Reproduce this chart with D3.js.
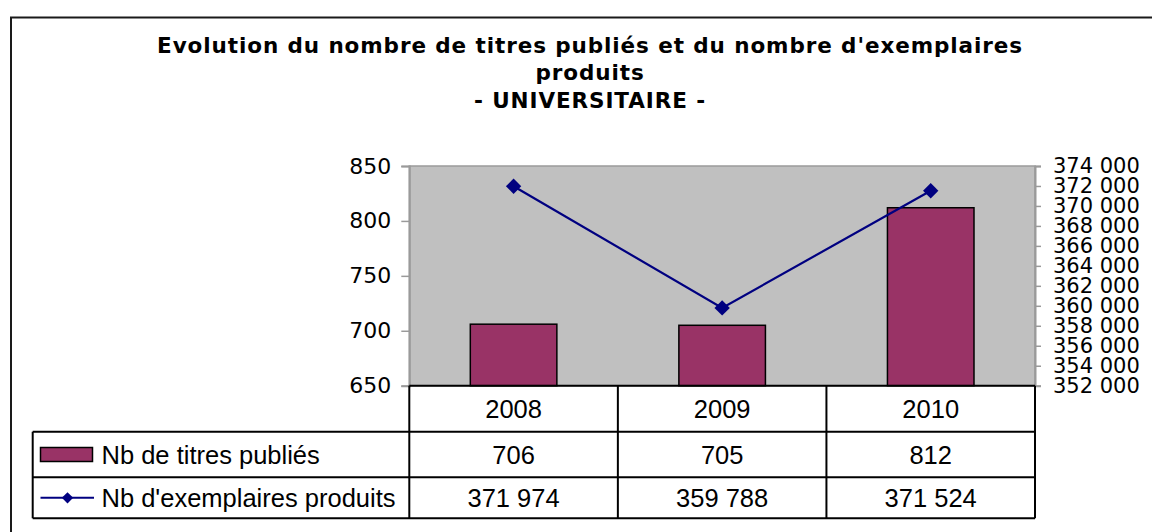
<!DOCTYPE html>
<html>
<head>
<meta charset="utf-8">
<script src="https://cdn.jsdelivr.net/npm/d3@7"></script>
<style>
  html, body { margin: 0; padding: 0; background: #fff; }
  svg { display: block; }
</style>
</head>
<body>
<svg id="chart" width="1152" height="532"></svg>
<script>
// Édition universitaire : titres publiés et exemplaires produits
const years = ["2008", "2009", "2010"];
const titres = [706, 705, 812];
const exemplaires = [371974, 359788, 371524];
const leftTicks = [650, 700, 750, 800, 850];
const rightTicks = [352000, 354000, 356000, 358000, 360000, 362000, 364000, 366000, 368000, 370000, 372000, 374000];
const seriesNames = ["Nb de titres publiés", "Nb d'exemplaires produits"];
const titleLines = ["Evolution du nombre de titres publiés et du nombre d'exemplaires", "produits", "- UNIVERSITAIRE -"];

const svg = d3.select("#chart");
const frFmt = d3.formatLocale({ decimal: ",", thousands: " ", grouping: [3], currency: ["", " €"] }).format(",d");

const plot = { left: 409.3, right: 1035, top: 166, bottom: 385.7 };
const table = { left: 32.7, rows: [385.7, 431.7, 477.3, 518.3] };

const x = d3.scaleBand().domain(years).range([plot.left, plot.right]).padding(0);
const yL = d3.scaleLinear().domain([650, 850]).range([plot.bottom, plot.top]);
const yR = d3.scaleLinear().domain([352000, 374000]).range([plot.bottom, plot.top]);

const barColor = "#993366";
const lineColor = "#000080";
const axisFont = "'DejaVu Sans', Verdana, sans-serif";
const tableFont = "'Liberation Sans', Arial, sans-serif";

// Outer frame (open on the right and bottom edges of the view)
svg.append("rect")
  .attr("x", 11).attr("y", 17.5).attr("width", 1200).attr("height", 600)
  .attr("fill", "none").attr("stroke", "#1a1a1a").attr("stroke-width", 2);

// Title
const title = svg.append("g")
  .attr("font-family", axisFont).attr("font-weight", "bold")
  .attr("font-size", 21.5).attr("fill", "#000");
const titleY = [52.5, 80, 108];
titleLines.forEach((t, i) => {
  title.append("text").attr("x", 590).attr("y", titleY[i])
    .attr("text-anchor", "middle").text(t);
});
// spread the title letters to the width of the first line
{
  const first = title.select("text").node();
  const natural = first.getComputedTextLength();
  const n = titleLines[0].length;
  const spacing = (865 - natural) / (n - 1);
  title.attr("letter-spacing", spacing);
}

// Plot area
svg.append("rect")
  .attr("x", plot.left).attr("y", plot.top)
  .attr("width", plot.right - plot.left).attr("height", plot.bottom - plot.top)
  .attr("fill", "#c0c0c0").attr("stroke", "#9a9a9a").attr("stroke-width", 1.5);

// Left axis
const axL = svg.append("g").attr("transform", `translate(${plot.left},0)`)
  .call(d3.axisLeft(yL).tickValues(leftTicks).tickSize(8).tickPadding(10).tickFormat(d3.format("d")));
axL.select(".domain").attr("stroke", "#9a9a9a").attr("stroke-width", 2);
axL.selectAll(".tick line").attr("stroke", "#9a9a9a").attr("stroke-width", 1.5);
axL.selectAll(".tick text").attr("font-family", axisFont).attr("font-size", 22).attr("fill", "#000");

// Right axis
const axR = svg.append("g").attr("transform", `translate(${plot.right},0)`)
  .call(d3.axisRight(yR).tickValues(rightTicks).tickSize(6).tickPadding(12).tickFormat(frFmt));
axR.select(".domain").attr("stroke", "#9a9a9a").attr("stroke-width", 2);
axR.selectAll(".tick line").attr("stroke", "#9a9a9a").attr("stroke-width", 1.5);
axR.selectAll(".tick text").attr("font-family", axisFont).attr("font-size", 21).attr("fill", "#000");

// Bars
const barW = x.bandwidth() * 0.415;
svg.append("g").selectAll("rect").data(years).join("rect")
  .attr("x", (d) => x(d) + (x.bandwidth() - barW) / 2)
  .attr("y", (d, i) => yL(titres[i]))
  .attr("width", barW)
  .attr("height", (d, i) => yL(650) - yL(titres[i]))
  .attr("fill", barColor).attr("stroke", "#000").attr("stroke-width", 1.5);

// Line with diamond markers
const pts = years.map((d, i) => [x(d) + x.bandwidth() / 2, yR(exemplaires[i])]);
svg.append("path").attr("d", d3.line()(pts))
  .attr("fill", "none").attr("stroke", lineColor).attr("stroke-width", 2.2);
const diamond = d3.symbol().type(d3.symbolSquare).size(118);
svg.append("g").selectAll("path").data(pts).join("path")
  .attr("d", diamond)
  .attr("transform", (p) => `translate(${p[0]},${p[1]}) rotate(45)`)
  .attr("fill", lineColor);

// Data table
const tbl = svg.append("g").attr("stroke", "#000").attr("stroke-width", 2).attr("fill", "none");
const colEdges = [plot.left, ...years.slice(1).map((d) => x(d)), plot.right];
// horizontal lines
tbl.append("line").attr("x1", plot.left).attr("x2", plot.right).attr("y1", table.rows[0]).attr("y2", table.rows[0]);
table.rows.slice(1).forEach((yy) => {
  tbl.append("line").attr("x1", table.left).attr("x2", plot.right).attr("y1", yy).attr("y2", yy);
});
// vertical lines
tbl.append("line").attr("x1", table.left).attr("x2", table.left).attr("y1", table.rows[1]).attr("y2", table.rows[3]);
colEdges.forEach((xx) => {
  tbl.append("line").attr("x1", xx).attr("x2", xx).attr("y1", table.rows[0]).attr("y2", table.rows[3]);
});

const cellText = svg.append("g").attr("font-family", tableFont).attr("font-size", 25.5).attr("fill", "#000");
const rowMid = (r) => (table.rows[r] + table.rows[r + 1]) / 2;
years.forEach((d, i) => {
  const cx = x(d) + x.bandwidth() / 2;
  cellText.append("text").attr("x", cx).attr("y", rowMid(0) + 9).attr("text-anchor", "middle").text(d);
  cellText.append("text").attr("x", cx).attr("y", rowMid(1) + 9).attr("text-anchor", "middle").text(titres[i]);
  cellText.append("text").attr("x", cx).attr("y", rowMid(2) + 9).attr("text-anchor", "middle").text(frFmt(exemplaires[i]));
});

// Legend keys in the first column
svg.append("rect").attr("x", 40.5).attr("y", rowMid(1) - 7).attr("width", 52).attr("height", 14)
  .attr("fill", barColor).attr("stroke", "#000").attr("stroke-width", 1.5);
svg.append("line").attr("x1", 40.5).attr("x2", 94).attr("y1", rowMid(2)).attr("y2", rowMid(2))
  .attr("stroke", lineColor).attr("stroke-width", 2);
svg.append("path").attr("d", d3.symbol().type(d3.symbolSquare).size(64)())
  .attr("transform", `translate(67.5,${rowMid(2)}) rotate(45)`).attr("fill", lineColor);
cellText.append("text").attr("x", 101.5).attr("y", rowMid(1) + 9).text(seriesNames[0]);
cellText.append("text").attr("x", 101.5).attr("y", rowMid(2) + 9).text(seriesNames[1]);
</script>
</body>
</html>
